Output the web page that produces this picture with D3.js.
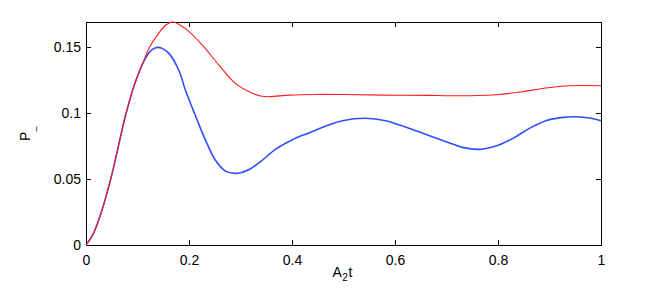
<!doctype html>
<html>
<head>
<meta charset="utf-8">
<style>
	body { margin: 0; background: #fff; }
	svg { display: block; font-family: "Liberation Sans", Arial, sans-serif; }
	.axis path, .axis line { stroke: #000; stroke-width: 1; shape-rendering: crispEdges; }
	.axis text { font-size: 14px; fill: #000; }
</style>
</head>
<body>
<div class="chart"></div>
<script src="https://d3js.org/d3.v7.min.js"></script>
<script>
	// values
	let redX = [0, 0.013, 0.028, 0.048, 0.078, 0.096, 0.114, 0.122, 0.141, 0.155, 0.169, 0.193, 0.226,
		0.258, 0.290, 0.323, 0.339, 0.356, 0.395, 0.446, 0.500, 0.576, 0.667, 0.706, 0.796, 0.848,
		0.893, 0.939, 1.0];
	let redY = [0, 0.0076, 0.0227, 0.050, 0.100, 0.1237, 0.1414, 0.149, 0.1604, 0.1667, 0.169, 0.164, 0.1515,
		0.1364, 0.1225, 0.115, 0.1129, 0.1124, 0.1136, 0.1141, 0.1140, 0.1136, 0.1134, 0.1131, 0.1139, 0.1162,
		0.119, 0.1207, 0.1207];

	let blueX = [0, 0.013, 0.028, 0.048, 0.078, 0.096, 0.114, 0.122, 0.128, 0.134, 0.140, 0.148, 0.161, 0.180,
		0.193, 0.212, 0.232, 0.251, 0.271, 0.289, 0.300, 0.316, 0.339, 0.369, 0.402, 0.434, 0.466, 0.498, 0.543,
		0.582, 0.627, 0.667, 0.699, 0.731, 0.764, 0.796, 0.829, 0.861, 0.893, 0.926, 0.952, 0.981, 1.0];
	let blueY = [0, 0.0076, 0.0227, 0.050, 0.100, 0.1237, 0.1405, 0.1455, 0.1478, 0.1493, 0.1498, 0.1490, 0.1452,
		0.1326, 0.1174, 0.0985, 0.0795, 0.0644, 0.056, 0.0543, 0.0548, 0.0570, 0.0632, 0.0728, 0.080, 0.0851,
		0.0902, 0.0942, 0.096, 0.0942, 0.0884, 0.0828, 0.0783, 0.074, 0.0725, 0.075, 0.0808, 0.0884, 0.0942,
		0.0967, 0.0972, 0.096, 0.0942];

	let xTicks = [0, 0.2, 0.4, 0.6, 0.8, 1];
	let yTicks = [0, 0.05, 0.1, 0.15];

	let width = 664,
		height = 296,
		padL = 86, padR = 601,
		padT = 22, padB = 245;

	let svg = d3.select(".chart")
		.append("svg")
		.attr("width", width)
		.attr("height", height);

	let scaleX = d3.scaleLinear().domain([0, 1]).range([padL, padR]);
	let scaleY = d3.scaleLinear().domain([0, 0.169]).range([padB, padT]);

	let fmt = d => String(d);

	// ticks point inward on all four sides, labels only bottom / left
	svg.append("g").attr("class", "axis")
		.attr("transform", "translate(0," + padB + ")")
		.call(d3.axisBottom(scaleX).tickValues(xTicks).tickFormat(fmt)
			.tickSizeInner(-5).tickSizeOuter(0).tickPadding(10));

	svg.append("g").attr("class", "axis")
		.attr("transform", "translate(" + padL + ",0)")
		.call(d3.axisLeft(scaleY).tickValues(yTicks).tickFormat(fmt)
			.tickSizeInner(-5).tickSizeOuter(0).tickPadding(5));

	svg.append("g").attr("class", "axis")
		.attr("transform", "translate(0," + padT + ")")
		.call(d3.axisTop(scaleX).tickValues(xTicks).tickFormat("")
			.tickSizeInner(-5).tickSizeOuter(0));

	svg.append("g").attr("class", "axis")
		.attr("transform", "translate(" + padR + ",0)")
		.call(d3.axisRight(scaleY).tickValues(yTicks).tickFormat("")
			.tickSizeInner(-5).tickSizeOuter(0));

	let line = d3.line()
		.x(d => scaleX(d[0]))
		.y(d => scaleY(d[1]))
		.curve(d3.curveCatmullRom.alpha(0.5));

	svg.append("path")
		.attr("d", line(d3.zip(blueX, blueY)))
		.attr("fill", "none")
		.attr("stroke", "#2f4fff")
		.attr("stroke-width", 1.6);

	svg.append("path")
		.attr("d", line(d3.zip(redX, redY)))
		.attr("fill", "none")
		.attr("stroke", "#ff1a1a")
		.attr("stroke-width", 1.1);

	// axis labels
	let xl = svg.append("text")
		.attr("x", 332.5)
		.attr("y", 277)
		.style("font-size", "14px");
	xl.append("tspan").text("A");
	xl.append("tspan").attr("dx", 0.5).attr("dy", 4).style("font-size", "10px").text("2");
	xl.append("tspan").attr("dx", 0.5).attr("dy", -4).text("t");

	let yl = svg.append("text")
		.attr("transform", "translate(30,141) rotate(-90)")
		.style("font-size", "14px");
	yl.append("tspan").text("P");
	yl.append("tspan").attr("dx", 0).attr("dy", 10).style("font-size", "10px").text("\u2212");
</script>
</body>
</html>
